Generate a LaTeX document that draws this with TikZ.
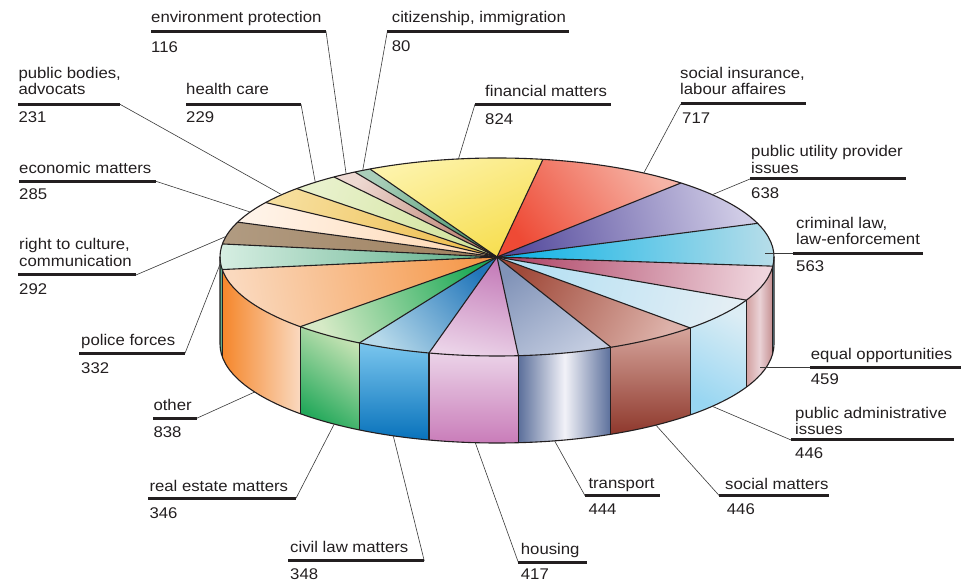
\documentclass[tikz,border=0pt]{standalone}
\usepackage{fontspec}
\setmainfont{Liberation Sans}[FakeStretch=1.08]
\usetikzlibrary{calc}

\definecolor{ink}{HTML}{231F20}
\definecolor{lead}{HTML}{3A3A3A}
% side colours
\definecolor{sPoA}{HTML}{4E9E7C}\definecolor{sPoB}{HTML}{7CC0A2}
\definecolor{sOtA}{HTML}{F5862A}\definecolor{sOtB}{HTML}{FAD9BF}
\definecolor{sReA}{HTML}{C6E3B4}\definecolor{sReB}{HTML}{22A85A}
\definecolor{sCvA}{HTML}{7AC6EE}\definecolor{sCvB}{HTML}{0872BB}
\definecolor{sHoA}{HTML}{EBD3E8}\definecolor{sHoB}{HTML}{C97CB9}
\definecolor{sTrA}{HTML}{5B6F9B}\definecolor{sTrB}{HTML}{F2F2F8}
\definecolor{sSmA}{HTML}{D6A59C}\definecolor{sSmB}{HTML}{8E382C}
\definecolor{sPaA}{HTML}{DCEDF4}\definecolor{sPaB}{HTML}{98D6F2}
\definecolor{sEoA}{HTML}{D2A0A0}\definecolor{sEoB}{HTML}{EAD2D6}\definecolor{sEoC}{HTML}{C48E90}
\definecolor{sClA}{HTML}{8FD2EA}

\newcommand\pietop[4]{%
  \begin{scope}
  \definecolor{pin}{HTML}{#3}\definecolor{pout}{HTML}{#4}%
  \pgfmathsetmacro\midA{(#1+#2)/2}%
  \pgfmathsetmacro\shA{atan2(99*sin(\midA),277*cos(\midA))-90}%
  \shade[top color=pout, bottom color=pin, shading angle=\shA]
    (C) -- ++(#1:277 and 99) arc[start angle=#1, end angle=#2, x radius=277, y radius=99] -- cycle;%
  \end{scope}%
}
\newcommand\pieside[3]{%
  \shade[#3] ($(C)+(#1:277 and 99)$) arc[start angle=#1, end angle=#2, x radius=277, y radius=99]
    -- ++(0,-87) arc[start angle=#2, end angle=#1, x radius=277, y radius=99] -- cycle;%
}

\begin{document}
\begin{tikzpicture}[x=1pt,y=1pt,
  lbl/.style={anchor=base west, inner sep=0pt, text=ink, font=\fontsize{15.5}{16.5}\selectfont},
  uline/.style={line width=3pt, draw=ink},
  leader/.style={line width=0.6pt, draw=lead},
  edge/.style={draw=ink, line width=1.1pt, line join=round}]
\useasboundingbox (0,0) rectangle (967,583);
\fill[white] (0,0) rectangle (967,583);
\coordinate (C) at (497,326);
\coordinate (B) at (497,239);

% ---- side faces (front half)
\pieside{-180}{-172.72}{left color=sPoA, right color=sPoB}
\pieside{-172.72}{-135.25}{left color=sOtA, right color=sOtB}
\pieside{-135.25}{-119.78}{top color=sReA, bottom color=sReB, shading angle=-35}
\pieside{-119.78}{-104.22}{top color=sCvA, bottom color=sCvB}
\pieside{-104.22}{-85.57}{top color=sHoA, bottom color=sHoB}
\pieside{-85.57}{-65.72}{left color=sTrA, right color=sTrA, middle color=sTrB}
\pieside{-65.72}{-45.77}{top color=sSmA, bottom color=sSmB}
\pieside{-45.77}{-25.83}{top color=sPaA, bottom color=sPaB, shading angle=-30}
\pieside{-25.83}{-5.31}{left color=sEoA, right color=sEoC, middle color=sEoB}
\pieside{-5.31}{0}{left color=sClA, right color=sClA}

% ---- top faces
\pietop{117.30}{80.45}{F7DE50}{FDF3AA}
\pietop{80.45}{48.39}{EE4A35}{F6B4A6}
\pietop{48.39}{19.87}{574D9E}{D0CCE6}
\pietop{19.87}{-5.31}{0AB2E6}{B6DDE9}
\pietop{-5.31}{-25.83}{AE4466}{EFD5DD}
\pietop{-25.83}{-45.77}{B2DFF3}{E3EEF4}
\pietop{-45.77}{-65.72}{A04A3A}{DDB2AA}
\pietop{-65.72}{-85.57}{8193B8}{C3CCE0}
\pietop{-85.57}{-104.22}{C47BB8}{EBD3E8}
\pietop{-104.22}{-119.78}{2276BA}{B6D9EA}
\pietop{-119.78}{-135.25}{1FAA58}{D6EAC6}
\pietop{-135.25}{-172.72}{F5984A}{FAD9BE}
\pietop{-172.72}{-187.57}{58AC86}{D6EEE2}
\pietop{-187.57}{-200.62}{A0815F}{B09A80}
\pietop{-200.62}{-213.37}{FFD8B2}{FFF3E8}
\pietop{-213.37}{-223.69}{EFBE4E}{F6DE9C}
\pietop{-223.69}{-233.93}{D2E39C}{E8F1CC}
\pietop{-233.93}{-239.12}{BC8070}{EED9D2}
\pietop{-239.12}{-242.70}{4A9870}{AACFBA}

% ---- edges
\foreach \t in {117.30,80.45,48.39,19.87,-5.31,-25.83,-45.77,-65.72,-85.57,-104.22,-119.78,-135.25,-172.72,-187.57,-200.62,-213.37,-223.69,-233.93,-239.12}
  \draw[edge] (C) -- ++(\t:277 and 99);
\foreach \t in {-172.72,-135.25,-119.78,-104.22,-85.57,-65.72,-45.77,-25.83,-5.31}
  \draw[edge] ($(C)+(\t:277 and 99)$) -- ++(0,-87);
\draw[edge] (C) ellipse[x radius=277, y radius=99];
\draw[edge] ($(C)+(180:277 and 99)$) -- ++(0,-87)
  arc[start angle=180, end angle=360, x radius=277, y radius=99] -- ++(0,87);

% ---- pie anchor points for leaders
\coordinate (pEnv) at ($(C)+(123:277 and 99)$);
\coordinate (pCit) at ($(C)+(119:277 and 99)$);
\coordinate (pPb)  at ($(C)+(141:277 and 99)$);
\coordinate (pHc)  at ($(C)+(131:277 and 99)$);
\coordinate (pFin) at ($(C)+(98:277 and 99)$);
\coordinate (pSi)  at ($(C)+(58:277 and 99)$);
\coordinate (pPu)  at ($(C)+(39:277 and 99)$);
\coordinate (pCl)  at (765,329.7);
\coordinate (pEo)  at (760,215.7);
\coordinate (pPa)  at ($(B)+(-39:277 and 99)$);
\coordinate (pSm)  at ($(B)+(-55:277 and 99)$);
\coordinate (pTr)  at ($(B)+(-78:277 and 99)$);
\coordinate (pHo)  at ($(B)+(-94.5:277 and 99)$);
\coordinate (pCv)  at ($(B)+(-112:277 and 99)$);
\coordinate (pRe)  at ($(B)+(-126:277 and 99)$);
\coordinate (pOt)  at ($(B)+(-151:277 and 99)$);
\coordinate (pPo)  at ($(C)+(183.5:277 and 99)$);
\coordinate (pRc)  at ($(C)+(168:277 and 99)$);
\coordinate (pEm)  at ($(C)+(153:277 and 99)$);

% ---- underline end points
\coordinate (uEnvA) at (151,551.7);   \coordinate (uEnvB) at (326,551.7);
\coordinate (uCitA) at (387.3,551.3); \coordinate (uCitB) at (569.3,551.3);
\coordinate (uPbA)  at (18,478.7);    \coordinate (uPbB)  at (120,478.7);
\coordinate (uHcA)  at (186,478.7);   \coordinate (uHcB)  at (301,478.7);
\coordinate (uFinA) at (475,478.7);   \coordinate (uFinB) at (610.7,478.7);
\coordinate (uSiA)  at (680.7,479);   \coordinate (uSiB)  at (805.7,479);
\coordinate (uPuA)  at (750,404);     \coordinate (uPuB)  at (905.7,404);
\coordinate (uClA)  at (793.3,329.7); \coordinate (uClB)  at (922.7,329.7);
\coordinate (uEoA)  at (810,215.7);   \coordinate (uEoB)  at (961,215.7);
\coordinate (uPaA)  at (791,143);     \coordinate (uPaB)  at (954,143);
\coordinate (uSmA)  at (719.3,87.3);  \coordinate (uSmB)  at (829.3,87.3);
\coordinate (uTrA)  at (585,87.3);    \coordinate (uTrB)  at (660,87.3);
\coordinate (uHoA)  at (518.3,20.7);  \coordinate (uHoB)  at (586.7,20.7);
\coordinate (uCvA)  at (288.3,22);    \coordinate (uCvB)  at (424.3,22);
\coordinate (uReA)  at (148,84.7);    \coordinate (uReB)  at (296,84.7);
\coordinate (uOtA)  at (153,164.7);   \coordinate (uOtB)  at (196.7,164.7);
\coordinate (uPoA)  at (79,229.7);    \coordinate (uPoB)  at (185,229.7);
\coordinate (uRcA)  at (18,308);      \coordinate (uRcB)  at (136,308);
\coordinate (uEmA)  at (19,401.7);    \coordinate (uEmB)  at (156,401.7);

% ---- leaders
\draw[leader] (uEnvB) -- (pEnv);
\draw[leader] (uCitA) -- (pCit);
\draw[leader] (uPbB) -- (pPb);
\draw[leader] (uHcB) -- (pHc);
\draw[leader] (uFinA) -- (pFin);
\draw[leader] (uSiA) -- (pSi);
\draw[leader] (uPuA) -- (pPu);
\draw[leader] (uClA) -- (pCl);
\draw[leader] (uEoA) -- (pEo);
\draw[leader] (uPaA) -- (pPa);
\draw[leader] (uSmA) -- (pSm);
\draw[leader] (uTrA) -- (pTr);
\draw[leader] (uHoA) -- (pHo);
\draw[leader] (uCvB) -- (pCv);
\draw[leader] (uReB) -- (pRe);
\draw[leader] (uOtB) -- (pOt);
\draw[leader] (uPoB) -- (pPo);
\draw[leader] (uRcB) -- (pRc);
\draw[leader] (uEmB) -- (pEm);

% ---- underlines
\foreach \n in {Env,Cit,Pb,Hc,Fin,Si,Pu,Cl,Eo,Pa,Sm,Tr,Ho,Cv,Re,Ot,Po,Rc,Em}
  \draw[uline] (u\n A) -- (u\n B);

% ---- texts
\node[lbl] (tEnv) at (151,560.3) {environment protection};
\node[lbl] (nEnv) at (151,530.7) {116};
\node[lbl] (tCit) at (391.7,560) {citizenship, immigration};
\node[lbl] (nCit) at (391.7,531.3) {80};
\node[lbl] (tPb1) at (18.3,504) {public bodies,};
\node[lbl] (tPb2) at (18.3,488) {advocats};
\node[lbl] (nPb)  at (18.3,460) {231};
\node[lbl] (tHc)  at (186,488.7) {health care};
\node[lbl] (nHc)  at (186,460) {229};
\node[lbl] (tFin) at (485,486.3) {financial matters};
\node[lbl] (nFin) at (485,458) {824};
\node[lbl] (tSi1) at (680,504.7) {social insurance,};
\node[lbl] (tSi2) at (680,488) {labour affaires};
\node[lbl] (nSi)  at (682,459.7) {717};
\node[lbl] (tPu1) at (751,426.3) {public utility provider};
\node[lbl] (tPu2) at (751,409.7) {issues};
\node[lbl] (nPu)  at (751,384) {638};
\node[lbl] (tCl1) at (796,354) {criminal law,};
\node[lbl] (tCl2) at (796,338) {law-enforcement};
\node[lbl] (nCl)  at (796,311.3) {563};
\node[lbl] (tEo)  at (810.7,223) {equal opportunities};
\node[lbl] (nEo)  at (810.7,198) {459};
\node[lbl] (tPa1) at (795,164.7) {public administrative};
\node[lbl] (tPa2) at (795,148.7) {issues};
\node[lbl] (nPa)  at (795,124.7) {446};
\node[lbl] (tSm)  at (725,93.7) {social matters};
\node[lbl] (nSm)  at (726.7,68) {446};
\node[lbl] (tTr)  at (588.3,94.7) {transport};
\node[lbl] (nTr)  at (588.3,68) {444};
\node[lbl] (tHo)  at (520.7,28) {housing};
\node[lbl] (nHo)  at (520.7,3) {417};
\node[lbl] (tCv)  at (290,30.3) {civil law matters};
\node[lbl] (nCv)  at (290,3) {348};
\node[lbl] (tRe)  at (149.3,91.3) {real estate matters};
\node[lbl] (nRe)  at (149.3,64.7) {346};
\node[lbl] (tOt)  at (153.3,172) {other};
\node[lbl] (nOt)  at (153.3,145.7) {838};
\node[lbl] (tPo)  at (81,237.3) {police forces};
\node[lbl] (nPo)  at (81,209) {332};
\node[lbl] (tRc1) at (19,333) {right to culture,};
\node[lbl] (tRc2) at (19,316.3) {communication};
\node[lbl] (nRc)  at (19,288.7) {292};
\node[lbl] (tEm)  at (19,409.7) {economic matters};
\node[lbl] (nEm)  at (19,383) {285};
\end{tikzpicture}
\end{document}
